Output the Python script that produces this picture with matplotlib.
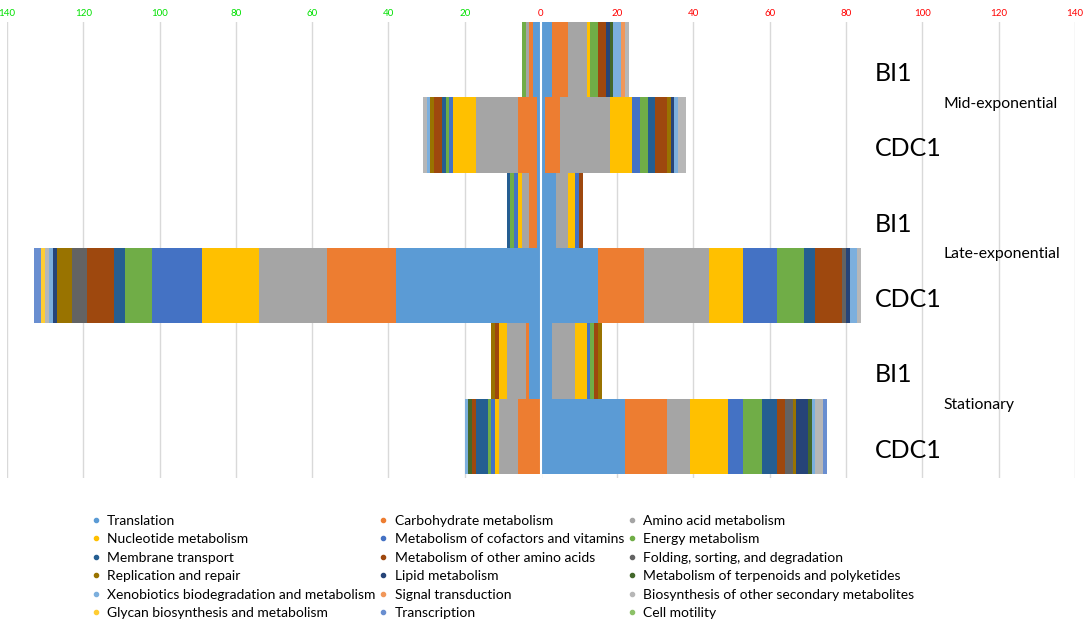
import numpy as np
import matplotlib.pyplot as plt
from matplotlib.lines import Line2D

plt.rcParams['font.family'] = ['Lato', 'DejaVu Sans']

# KEGG categories (stacking order, from the centre outwards)
categories = ['Translation', 'Carbohydrate metabolism', 'Amino acid metabolism',
              'Nucleotide metabolism', 'Metabolism of cofactors and vitamins', 'Energy metabolism',
              'Membrane transport', 'Metabolism of other amino acids', 'Folding, sorting, and degradation',
              'Replication and repair', 'Lipid metabolism', 'Metabolism of terpenoids and polyketides',
              'Xenobiotics biodegradation and metabolism', 'Signal transduction',
              'Biosynthesis of other secondary metabolites',
              'Glycan biosynthesis and metabolism', 'Transcription', 'Cell motility']

colors = ['#5B9BD5', '#ED7D31', '#A5A5A5', '#FFC000', '#4472C4', '#70AD47',
          '#255E91', '#9E480E', '#636363', '#997300', '#264478', '#43682B',
          '#7CAFDD', '#F1975A', '#B7B7B7', '#FFCD33', '#698ED0', '#8CC168']

rows = ['BI1', 'CDC1', 'BI1', 'CDC1', 'BI1', 'CDC1']
phases = ['Mid-exponential', 'Late-exponential', 'Stationary']

# gene counts per category, left side (green axis) and right side (red axis)
bi1_mid_left = [2, 1, 1, 0, 0, 1, 0, 0, 0, 0, 0, 0, 0, 0, 0, 0, 0, 0]
bi1_mid_right = [3, 4, 5, 1, 0, 2, 0, 2, 0, 0, 1, 1, 2, 1, 1, 0, 0, 0]
cdc1_mid_left = [1, 5, 11, 6, 1, 1, 1, 2, 0, 1, 0, 0, 1, 0, 1, 0, 0, 0]
cdc1_mid_right = [1, 4, 13, 6, 2, 2, 2, 3, 0, 1, 1, 0, 1, 0, 2, 0, 0, 0]
bi1_late_left = [1, 2, 2, 1, 1, 1, 1, 0, 0, 0, 0, 0, 0, 0, 0, 0, 0, 0]
bi1_late_right = [4, 0, 3, 2, 1, 0, 0, 1, 0, 0, 0, 0, 0, 0, 0, 0, 0, 0]
cdc1_late_left = [38, 18, 18, 15, 13, 7, 3, 7, 4, 4, 1, 0, 1, 0, 1, 1, 2, 0]
cdc1_late_right = [15, 12, 17, 9, 9, 7, 3, 7, 1, 0, 1, 0, 2, 0, 1, 0, 0, 0]
bi1_stat_left = [3, 1, 5, 2, 0, 0, 0, 1, 0, 1, 0, 0, 0, 0, 0, 0, 0, 0]
bi1_stat_right = [3, 0, 6, 3, 1, 1, 0, 1, 0, 1, 0, 0, 0, 0, 0, 0, 0, 0]
cdc1_stat_left = [0, 6, 5, 1, 1, 1, 3, 1, 0, 0, 0, 1, 1, 0, 0, 0, 0, 0]
cdc1_stat_right = [22, 11, 6, 10, 4, 5, 4, 2, 2, 1, 3, 1, 1, 0, 2, 0, 1, 0]

left_data = np.array([bi1_mid_left, cdc1_mid_left, bi1_late_left,
                      cdc1_late_left, bi1_stat_left, cdc1_stat_left])
right_data = np.array([bi1_mid_right, cdc1_mid_right, bi1_late_right,
                       cdc1_late_right, bi1_stat_right, cdc1_stat_right])

fig = plt.figure(figsize=(10.84, 6.33), dpi=100)
ax = fig.add_axes([0.0065, 0.245, 0.985, 0.72])

y = np.arange(len(rows))
left_cum = np.zeros(len(rows))
right_cum = np.zeros(len(rows))
for i, cat in enumerate(categories):
    ax.barh(y, right_data[:, i], left=right_cum, height=1.0, color=colors[i], zorder=2)
    ax.barh(y, -left_data[:, i], left=-left_cum, height=1.0, color=colors[i], zorder=2)
    right_cum += right_data[:, i]
    left_cum += left_data[:, i]

# white divider at zero
ax.axvline(0, color='white', lw=1.5, zorder=3)

ax.set_xlim(-140, 140)
ax.set_ylim(5.55, -0.5)
ticks = np.arange(-140, 141, 20)
ax.set_xticks(ticks)
ax.set_xticklabels([str(abs(t)) for t in ticks], fontsize=7)
ax.xaxis.tick_top()
ax.tick_params(axis='x', length=0, pad=3)
for lab, t in zip(ax.get_xticklabels(), ticks):
    lab.set_color('#00E000' if t < 0 else '#FF0000')
ax.set_yticks([])
ax.grid(axis='x', color='#D9D9D9', lw=1, zorder=0)
for s in ax.spines.values():
    s.set_visible(False)

# row and phase labels on the right
for i, r in enumerate(rows):
    ax.text(87.5, i + 0.18, r, fontsize=18, va='center', ha='left')
for k, p in enumerate(phases):
    ax.text(105.5, 2 * k + 0.58, p, fontsize=11.3, va='center', ha='left')

# legend, filled row by row like the original
handles = [Line2D([], [], marker='o', ls='', color=c, markersize=3) for c in colors]
order = [i for c in range(3) for i in range(c, len(categories), 3)]
fig.legend([handles[i] for i in order], [categories[i] for i in order],
           loc='upper left', bbox_to_anchor=(0.078, 0.198), ncol=3, frameon=False,
           fontsize=10, handlelength=0.6, handletextpad=0.5, columnspacing=0.3,
           labelspacing=0.47, borderpad=0)

fig.savefig('out.png', dpi=100)
